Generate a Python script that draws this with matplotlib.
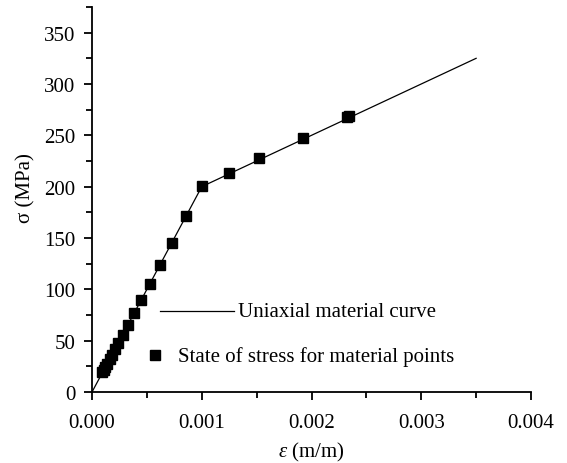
import matplotlib
matplotlib.use('Agg')
import matplotlib.pyplot as plt
from matplotlib.ticker import MultipleLocator, FormatStrFormatter

plt.rcParams['font.family'] = ['Liberation Serif', 'DejaVu Serif']
plt.rcParams['mathtext.fontset'] = 'custom'
plt.rcParams['mathtext.rm'] = 'Liberation Serif'
plt.rcParams['mathtext.it'] = 'Liberation Serif:italic'

# uniaxial material curve (bilinear)
curve_strain = [0.0, 0.001, 0.0035]
curve_stress = [0.0, 200.0, 325.0]

# stress state of the material points
pt_strain = [0.000095, 0.000105, 0.00012, 0.000138, 0.00016, 0.00018, 0.000208,
             0.00024, 0.00028, 0.000328, 0.000383, 0.00045, 0.000525, 0.000618,
             0.000725, 0.000858, 0.001005, 0.001245, 0.00152, 0.00192, 0.00232,
             0.00234]
pt_stress = [19.0, 21.0, 24.0, 27.5, 32.0, 36.0, 41.5, 48.0, 56.0, 65.5, 76.5,
             90.0, 105.0, 123.5, 145.0, 171.5, 201.0, 213.5, 227.5, 247.5, 268.0,
             269.0]

legend_labels = ['Uniaxial material curve', 'State of stress for material points']

fig = plt.figure(figsize=(5.67, 4.64), dpi=100)
ax = fig.add_axes([0.1623, 0.153, 0.7742, 0.8298])

ax.plot(curve_strain, curve_stress, color='black', lw=0.9)
ax.plot(pt_strain, pt_stress, ls='none', marker='s', ms=6.5, color='black')

ax.set_xlim(0, 0.004)
ax.set_ylim(0, 375)
ax.xaxis.set_major_locator(MultipleLocator(0.001))
ax.xaxis.set_minor_locator(MultipleLocator(0.0005))
ax.xaxis.set_major_formatter(FormatStrFormatter('%.3f'))
ax.yaxis.set_major_locator(MultipleLocator(50))
ax.yaxis.set_minor_locator(MultipleLocator(25))

for s in ['top', 'right']:
    ax.spines[s].set_visible(False)
for s in ['left', 'bottom']:
    ax.spines[s].set_linewidth(1.3)
ax.tick_params(which='major', direction='out', length=6, width=1.3, labelsize=15)
ax.tick_params(which='minor', direction='out', length=4, width=1.3)
ax.tick_params(axis='x', which='major', pad=9)
ax.tick_params(axis='y', which='major', pad=6)

ax.set_xlabel(r'$\varepsilon$ (m/m)', fontsize=15)
ax.xaxis.set_label_coords(0.5, -0.125)
ax.set_ylabel('σ (MPa)', fontsize=15)
ax.yaxis.set_label_coords(-0.128, 0.532)

# hand-placed legend inside the axes
tr = ax.transAxes
ax.plot([0.155, 0.323], [0.2096, 0.2096], color='black', lw=0.9, transform=tr)
ax.text(0.3326, 0.197, legend_labels[0], fontsize=15, va='baseline', transform=tr)
ax.plot([0.1435], [0.096], ls='none', marker='s', ms=6.5, color='black', transform=tr)
ax.text(0.196, 0.0805, legend_labels[1], fontsize=15, va='baseline', transform=tr)

fig.savefig('out.png', dpi=100)
